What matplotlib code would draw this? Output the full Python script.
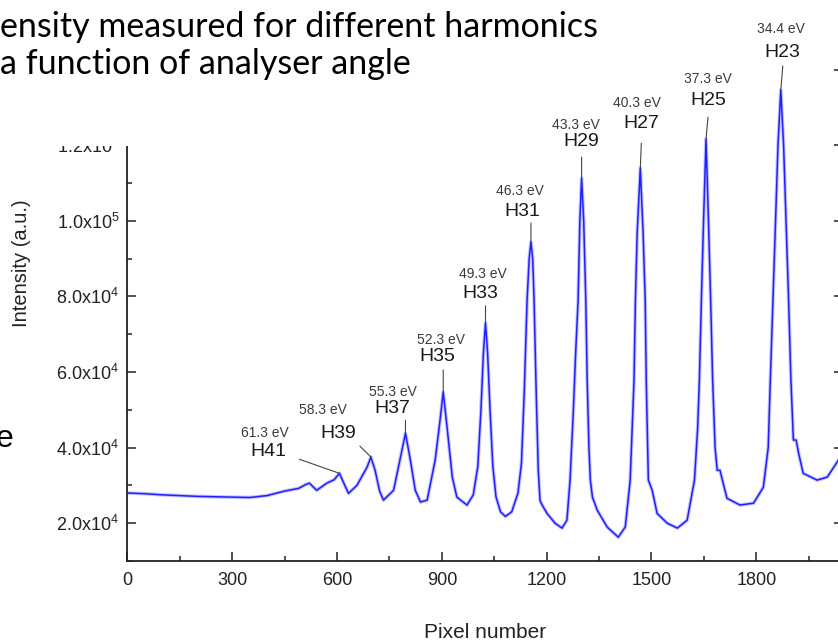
import matplotlib.pyplot as plt
from matplotlib.patches import Rectangle
from matplotlib.ticker import MultipleLocator, FixedLocator, FuncFormatter

plt.rcParams['font.family'] = ['Liberation Sans', 'DejaVu Sans']
plt.rcParams['mathtext.fontset'] = 'custom'
plt.rcParams['mathtext.rm'] = 'Liberation Sans'
plt.rcParams['mathtext.it'] = 'Liberation Sans:italic'

# spectrum (pixel number, intensity)
pixel = [0, 50, 100, 150, 200, 250, 300, 350, 400, 450, 490, 510, 521, 542,
         571, 592, 607, 620, 633, 657, 686, 697, 709, 722, 733, 762, 786, 796,
         810, 824, 839, 858, 881, 895, 904, 915, 930, 943, 972, 990, 1003,
         1012, 1019, 1025, 1031, 1038, 1046, 1055, 1068, 1082, 1100, 1118,
         1128, 1136, 1144, 1150, 1155, 1160, 1164, 1170, 1176, 1181, 1186,
         1201, 1224, 1244, 1258, 1267, 1276, 1283, 1290, 1295, 1300, 1306,
         1312, 1316, 1321, 1325, 1331, 1345, 1373, 1405, 1425, 1439, 1450,
         1454, 1459, 1468, 1476, 1482, 1485, 1491, 1502, 1516, 1545, 1574,
         1602, 1623, 1632, 1637, 1643, 1649, 1656, 1663, 1669, 1675, 1682,
         1688, 1696, 1705, 1716, 1753, 1792, 1820, 1834, 1840, 1848, 1855,
         1862, 1870, 1878, 1885, 1892, 1899, 1906, 1914, 1921, 1934, 1974,
         2003, 2035, 2047]
intensity = [28000, 27800, 27500, 27300, 27100, 27000, 26900, 26800, 27300,
             28500, 29200, 30200, 30600, 28700, 30600, 31500, 33200, 30500,
             27900, 30000, 34800, 37500, 34000, 28500, 26100, 28700, 39300,
             43800, 36700, 28700, 25600, 26100, 36700, 47300, 54700, 45400,
             32200, 26900, 24800, 27500, 35000, 50000, 65000, 73000, 65000,
             50000, 35000, 27000, 23000, 21800, 23000, 28000, 36000, 55000,
             79000, 90000, 94400, 90000, 79000, 55000, 34000, 26000, 25000,
             22600, 20000, 18700, 20800, 31400, 49000, 65000, 79000, 100000,
             111300, 100000, 79000, 57800, 40000, 31400, 26900, 23400, 19000,
             16300, 19000, 31400, 57800, 79000, 96700, 113900, 96700, 79000,
             57800, 31400, 28700, 22600, 20000, 18700, 20800, 31400, 45000,
             57800, 80000, 100000, 121600, 100000, 80000, 57800, 40000, 34000,
             34000, 30600, 26600, 24800, 25300, 29500, 40000, 57800, 80000,
             100000, 120000, 134600, 120000, 100000, 80000, 57800, 42000,
             42000, 38500, 33200, 31400, 32200, 36700, 39000]

harmonics = ['H23', 'H25', 'H27', 'H29', 'H31', 'H33', 'H35', 'H37', 'H39', 'H41']
energies = ['34.4 eV', '37.3 eV', '40.3 eV', '43.3 eV', '46.3 eV',
            '49.3 eV', '52.3 eV', '55.3 eV', '58.3 eV', '61.3 eV']
peak_pixel = [1870, 1656, 1468, 1300, 1155, 1025, 904, 796, 697, 607]
peak_intensity = [134600, 121600, 113900, 111300, 94400, 73000, 54700,
                  43800, 37500, 33200]

xticks = [0, 300, 600, 900, 1200, 1500, 1800]
yticks = [20000, 40000, 60000, 80000, 100000, 120000, 140000]

# label layout, offsets in screen pixels from the peak:
# (H dx, H dy, eV dx, eV dy, line x0, line y0, line x1, line y1)
label_layout = [
    (2, 38, 0, 61, 2, 24, 2, 6),
    (2, 39, 2, 60, 2, 22, 2, 5),
    (1, 45, -3, 65, 1, 25, 1, 5),
    (0, 37, -6, 53, 0, 21, 0, 5),
    (-9, 30, -11, 51, 0, 19, 0, 5),
    (-5, 29, -3, 49, 0, 17, 0, 4),
    (-6, 36, -2, 52, 0, 22, 0, 5),
    (-13, 25, -13, 41, 0, 13, 0, 3),
    (-33, 24, -48, 47, -11, 11, -3, 1),
    (-71, 22, -75, 40, -40, 14, -2, 1),
]

W, H = 838, 641
PT = 0.72  # points per pixel at 100 dpi

fig = plt.figure(figsize=(W / 100, H / 100), dpi=100)
# the chart is cropped by the slide, so the axes run past the canvas
ax = fig.add_axes([127.3 / W, (H - 561) / H, (843 - 127.3) / W, (561 + 6) / H])

ax.plot(pixel, intensity, color='#3535ff', lw=2.6, alpha=0.3)
ax.plot(pixel, intensity, color='#2020ff', lw=1.1)

ax.set_xlim(0, 2048)
ax.set_ylim(10000, 160000)
ax.xaxis.set_major_locator(FixedLocator(xticks))
ax.xaxis.set_minor_locator(MultipleLocator(150))
ax.yaxis.set_major_locator(FixedLocator(yticks))
ax.yaxis.set_minor_locator(MultipleLocator(10000))


def sci(v, pos):
    # the 1.4x10^5 label sits under the slide's title box
    if v > 125000:
        return ''
    e = len(str(int(v))) - 1
    return '%.1fx10$^{%d}$' % (v / 10 ** e, e)


ax.yaxis.set_major_formatter(FuncFormatter(sci))
ax.tick_params(which='both', direction='in', top=False, right=True,
               width=1.1, color='#222222', labelcolor='#222222', labelsize=13)
ax.tick_params(which='major', length=6.5)
ax.tick_params(which='minor', length=3.6)
ax.tick_params(axis='y', pad=5.8)
ax.tick_params(axis='x', pad=8)
for s in ax.spines.values():
    s.set_linewidth(1.3)
    s.set_color('#222222')

ax.set_xlabel('Pixel number', fontsize=15, color='#222222')
ax.set_ylabel('Intensity (a.u.)', fontsize=14.5, color='#222222')
ax.xaxis.set_label_coords(0.5, -0.11)
ax.yaxis.set_label_coords(-0.135, 0.525)

for name, ev, px, py, lay in zip(harmonics, energies, peak_pixel,
                                  peak_intensity, label_layout):
    hdx, hdy, edx, edy, lx0, ly0, lx1, ly1 = [v * PT for v in lay]
    ax.annotate(name, (px, py), xytext=(hdx, hdy), textcoords='offset points',
                ha='center', va='center', fontsize=14, color='#1a1a1a')
    ax.annotate(ev, (px, py), xytext=(edx, edy), textcoords='offset points',
                ha='center', va='center', fontsize=10, color='#3a3a3a')
    ax.annotate('', (px, py), xytext=(lx0, ly0), textcoords='offset points',
                arrowprops=dict(arrowstyle='-', color='#444444', lw=0.8,
                                shrinkA=0, shrinkB=0,
                                relpos=(0.5, 0.5)))

# white title box of the slide sits over the top-left of the chart
fig.add_artist(Rectangle((0, (H - 146) / H), 540 / W, 146 / H,
                         transform=fig.transFigure, facecolor='white',
                         edgecolor='none', zorder=5))
fig.text(0, (H - 27) / H, 'ensity measured for different harmonics',
         family=['Lato', 'DejaVu Sans'], fontsize=24.5, color='black',
         ha='left', va='center', zorder=6)
fig.text(0, (H - 64) / H, 'a function of analyser angle',
         family=['Lato', 'DejaVu Sans'], fontsize=24.5, color='black',
         ha='left', va='center', zorder=6)
fig.text(13 / W, (H - 447) / H, 'e', fontsize=23, color='black',
         ha='right', va='baseline', zorder=6)

fig.savefig('out.png', dpi=100)
